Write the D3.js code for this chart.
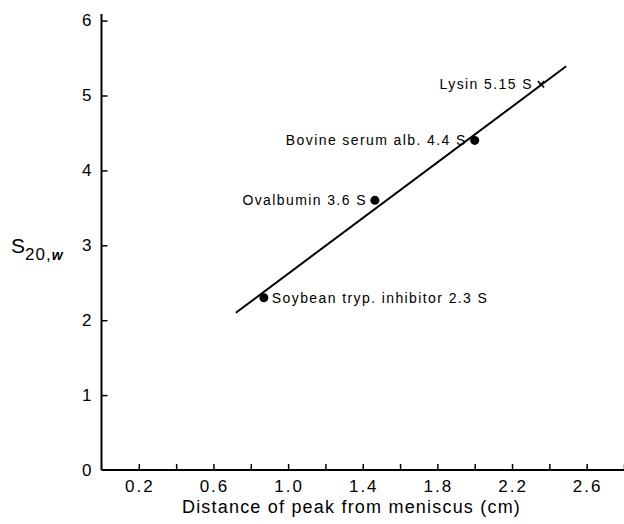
<!DOCTYPE html>
<html>
<head>
<meta charset="utf-8">
<script src="https://cdn.jsdelivr.net/npm/d3@7"></script>
<style>
  html, body { margin: 0; padding: 0; background: #fff; }
  svg { display: block; }
  text { font-family: "Liberation Sans", Arial, sans-serif; fill: #000; }
</style>
</head>
<body>
<div id="chart"></div>
<script>
// ---- data ----
const proteins = ["Soybean tryp. inhibitor 2.3 S", "Ovalbumin 3.6 S", "Bovine serum alb. 4.4 S"];
const distances = [0.87, 1.465, 2.0];
const sValues = [2.3, 3.6, 4.4];
const unknownLabel = ["Lysin 5.15 S"];
const unknownDistance = [2.355];
const unknownS = [5.15];
const fitX = [0.72, 2.49];
const fitY = [2.1, 5.39];
const xTicks = [0.2, 0.4, 0.6, 0.8, 1.0, 1.2, 1.4, 1.6, 1.8, 2.0, 2.2, 2.4, 2.6, 2.8];
const xTickLabels = ["0.2", "0.6", "1.0", "1.4", "1.8", "2.2", "2.6"];
const yTicks = [0, 1, 2, 3, 4, 5, 6];

const W = 624, H = 524;
const svg = d3.select("#chart").append("svg").attr("width", W).attr("height", H);

const x = d3.scaleLinear().domain([0, 2.8]).range([101.5, 624]);
const y = d3.scaleLinear().domain([0, 6]).range([470, 20.6]);

// axes lines
svg.append("line").attr("x1", x(0)).attr("x2", x(0)).attr("y1", y(0)).attr("y2", 14)
  .attr("stroke", "#000").attr("stroke-width", 2);
svg.append("line").attr("x1", x(0)).attr("x2", x(2.8)).attr("y1", y(0)).attr("y2", y(0))
  .attr("stroke", "#000").attr("stroke-width", 2);

// x axis ticks (inward)
const xAxis = d3.axisTop(x).tickValues(xTicks).tickSize(6).tickFormat("");
const gx = svg.append("g").attr("transform", `translate(0,${y(0)})`).call(xAxis);
gx.select(".domain").remove();
gx.selectAll(".tick line").attr("stroke", "#000").attr("stroke-width", 1.5);

svg.append("g").selectAll("text").data(xTickLabels).join("text")
  .attr("x", d => x(+d) + 1).attr("y", y(0) + 16)
  .attr("text-anchor", "middle").attr("dominant-baseline", "central")
  .attr("font-size", 17).attr("letter-spacing", 2)
  .text(d => d);

// y axis ticks (inward)
const yAxis = d3.axisRight(y).tickValues(yTicks).tickSize(6).tickFormat("");
const gy = svg.append("g").attr("transform", `translate(${x(0)},0)`).call(yAxis);
gy.select(".domain").remove();
gy.selectAll(".tick line").attr("stroke", "#000").attr("stroke-width", 1.5);
gy.selectAll(".tick").filter(d => d === 0).select("line").remove();

svg.append("g").selectAll("text").data(yTicks).join("text")
  .attr("x", x(0) - 10).attr("y", d => y(d))
  .attr("text-anchor", "end").attr("dominant-baseline", "central")
  .attr("font-size", 17)
  .text(d => d);

// axis titles
svg.append("text").attr("x", (183 + 520) / 2).attr("y", 507)
  .attr("text-anchor", "middle").attr("dominant-baseline", "central")
  .attr("font-size", 18).attr("letter-spacing", 1.2)
  .text("Distance of peak from meniscus (cm)");

const yl = svg.append("text").attr("x", 11).attr("y", 253).attr("font-size", 21);
yl.append("tspan").text("S");
yl.append("tspan").attr("font-size", 17).attr("dy", 7).attr("letter-spacing", 1).text("20,");
yl.append("tspan").attr("font-size", 14).attr("font-style", "italic").attr("font-weight", "bold").text("w");

// fitted line
const fit = fitX.map((d, i) => ({ x: d, y: fitY[i] }));
svg.append("path").datum(fit)
  .attr("d", d3.line().x(d => x(d.x)).y(d => y(d.y)))
  .attr("fill", "none").attr("stroke", "#000").attr("stroke-width", 2);

// standards
const pts = proteins.map((p, i) => ({ label: p, x: distances[i], y: sValues[i] }));
svg.append("g").selectAll("circle").data(pts).join("circle")
  .attr("cx", d => x(d.x)).attr("cy", d => y(d.y)).attr("r", 4.5).attr("fill", "#000");

// labels: soybean to the right, others to the left
svg.append("g").selectAll("text").data(pts).join("text")
  .attr("x", (d, i) => i === 0 ? x(d.x) + 8 : x(d.x) - 8)
  .attr("y", d => y(d.y))
  .attr("text-anchor", (d, i) => i === 0 ? "start" : "end")
  .attr("dominant-baseline", "central")
  .attr("font-size", 14).attr("letter-spacing", 1.4)
  .text(d => d.label);

// unknown (lysin) as x
const unk = unknownLabel.map((l, i) => ({ label: l, x: unknownDistance[i], y: unknownS[i] }));
svg.append("g").selectAll("path").data(unk).join("path")
  .attr("d", d => { const cx = x(d.x), cy = y(d.y), s = 3.2;
    return `M${cx - s},${cy - s}L${cx + s},${cy + s}M${cx - s},${cy + s}L${cx + s},${cy - s}`; })
  .attr("stroke", "#000").attr("stroke-width", 1.6);
svg.append("g").selectAll("text").data(unk).join("text")
  .attr("x", d => x(d.x) - 8).attr("y", d => y(d.y))
  .attr("text-anchor", "end").attr("dominant-baseline", "central")
  .attr("font-size", 14).attr("letter-spacing", 1.4)
  .text(d => d.label);
</script>
</body>
</html>
